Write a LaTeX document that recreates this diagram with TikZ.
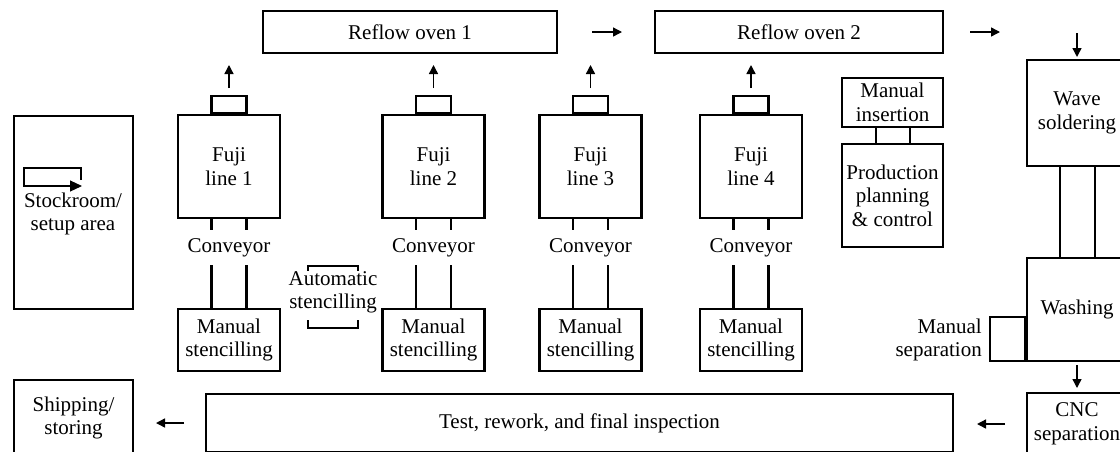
\documentclass[tikz,border=0pt]{standalone}
\usepackage{fontspec}
\setmainfont{Liberation Serif}
\usetikzlibrary{arrows.meta}
\tikzset{
  x=1pt, y=-1pt,
  box/.style={draw, line width=2.3pt, inner sep=0pt, align=center, font=\fontsize{21}{23.5}\selectfont},
  lbl/.style={inner sep=0pt, align=center, font=\fontsize{21}{23.5}\selectfont},
  conv/.style={line width=2.3pt},
  flow/.style={line width=1.4pt, -{Triangle[length=9pt,width=9pt]}},
  brk/.style={line width=2.3pt},
}
\begin{document}
\begin{tikzpicture}
\useasboundingbox (0,0) rectangle (1120,451);
\clip (0,0) rectangle (1120,451);
% reflow ovens
\node[box, minimum width=294pt, minimum height=42pt] (ro1) at (410,32) {Reflow oven 1};
\node[box, minimum width=288pt, minimum height=42pt] (ro2) at (799,32) {Reflow oven 2};
\coordinate (a1s) at (592,32); \coordinate (a1e) at (622,32);
\coordinate (a2s) at (970,32); \coordinate (a2e) at (1000,32);
\draw[flow] (a1s) -- (a1e);
\draw[flow] (a2s) -- (a2e);
% Fuji lines
\foreach \i/\x in {1/229, 2/433.5, 3/590.5, 4/751} {
  \node[box, minimum width=102pt, minimum height=103pt] (f\i) at (\x,166.5) {Fuji\\line \i};
  \node[box, minimum width=35pt, minimum height=17pt, anchor=south] (t\i) at (f\i.north) {};
  \coordinate (u\i s) at (\x,88);
  \coordinate (u\i e) at (\x,65);
  \draw[flow] (u\i s) -- (u\i e);
  \node[lbl, minimum height=35pt] (c\i) at (\x,247.5) {Conveyor};
  \node[box, minimum width=102pt, minimum height=62pt] (m\i) at (\x,340) {Manual\\stencilling};
  \draw[conv] ([xshift=-17.5pt]f\i.south) -- ([xshift=-17.5pt]f\i.south |- c\i.north);
  \draw[conv] ([xshift=17.5pt]f\i.south) -- ([xshift=17.5pt]f\i.south |- c\i.north);
  \draw[conv] ([xshift=-17.5pt]m\i.north |- c\i.south) -- ([xshift=-17.5pt]m\i.north);
  \draw[conv] ([xshift=17.5pt]m\i.north |- c\i.south) -- ([xshift=17.5pt]m\i.north);
}
% automatic stencilling
\node[lbl] (auto) at (333,292.5) {Automatic\\stencilling};
\draw[brk] (308,270.5) -- (308,266) -- (358,266) -- (358,270.5);
\draw[brk] (308,320) -- (308,328) -- (358,328) -- (358,320);
% stockroom
\node[box, minimum width=119pt, minimum height=193pt] (stock) at (73.5,212.5) {};
\node[lbl] (stocktxt) at (73,214) {Stockroom/\\setup area};
\draw[line width=1.1pt, -{Triangle[length=12pt,width=11pt]}] (81,180) -- (81,168) -- (24,168) -- (24,186) -- (82,186);
% shipping
\node[box, minimum width=119pt, minimum height=76pt] (ship) at (73.5,418) {Shipping/\\storing};
\coordinate (as1) at (184,423); \coordinate (ae1) at (156,423);
\draw[flow] (as1) -- (ae1);
% test
\node[box, minimum width=747pt, minimum height=58pt] (test) at (579.5,423) {Test, rework, and final inspection};
% manual insertion / production planning
\node[box, minimum width=101pt, minimum height=49pt] (mi) at (892.5,102.5) {Manual\\insertion};
\node[box, minimum width=101pt, minimum height=103pt] (pp) at (892.5,195.5) {Production\\planning\\\& control};
\draw[conv] ([xshift=-16.5pt]mi.south) -- ([xshift=-16.5pt]pp.north);
\draw[conv] ([xshift=17.5pt]mi.south) -- ([xshift=17.5pt]pp.north);
% right column
\node[box, minimum width=100pt, minimum height=106pt] (wave) at (1077,113) {Wave\\soldering};
\node[box, minimum width=100pt, minimum height=103pt] (wash) at (1077,309.5) {Washing};
\node[box, minimum width=100pt, minimum height=62pt] (cnc) at (1077,424) {CNC\\separation};
\draw[conv] ([xshift=-17pt]wave.south) -- ([xshift=-17pt]wash.north);
\draw[conv] ([xshift=18pt]wave.south) -- ([xshift=18pt]wash.north);
\node[box, minimum width=35pt, minimum height=44pt, anchor=south east] (msep) at (wash.south west) {};
\node[lbl, align=right, anchor=east] (mseptxt) at (982,340) {Manual\\separation};
\coordinate (wv1) at (1077,33); \coordinate (wv2) at (1077,57);
\draw[flow] (wv1) -- (wv2);
\coordinate (wa1) at (1077,365); \coordinate (wa2) at (1077,388);
\draw[flow] (wa1) -- (wa2);
\coordinate (cl1) at (1005,424); \coordinate (cl2) at (977,424);
\draw[flow] (cl1) -- (cl2);
\end{tikzpicture}
\end{document}
